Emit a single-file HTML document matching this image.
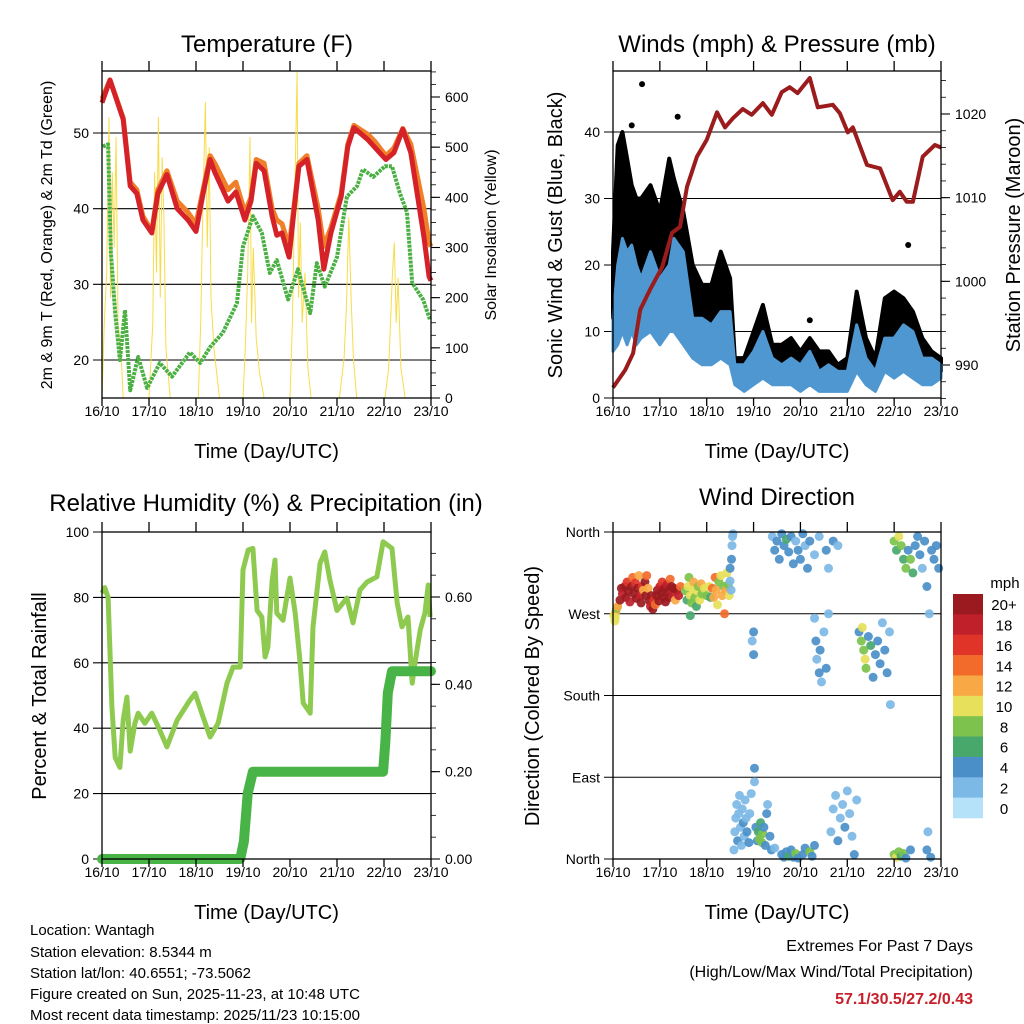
<!DOCTYPE html>
<html><head><meta charset="utf-8">
<style>
html,body{margin:0;padding:0;background:#fff;}
svg{display:block;font-family:"Liberation Sans",sans-serif;}
</style></head>
<body>
<svg id="c" width="1024" height="1024" viewBox="0 0 1024 1024">
<rect width="1024" height="1024" fill="#fff"/>
<g id="p1"></g>
<g id="p2"></g>
<g id="p3"></g>
<g id="p4"></g>
<g id="foot">
<text x="30" y="935" font-size="15">Location: Wantagh</text>
<text x="30" y="957" font-size="15">Station elevation: 8.5344 m</text>
<text x="30" y="978" font-size="15">Station lat/lon: 40.6551; -73.5062</text>
<text x="30" y="999" font-size="15">Figure created on Sun, 2025-11-23, at 10:48 UTC</text>
<text x="30" y="1020" font-size="15">Most recent data timestamp: 2025/11/23 10:15:00</text>
<text x="973" y="951" font-size="16" text-anchor="end">Extremes For Past 7 Days</text>
<text x="973" y="977" font-size="16" text-anchor="end">(High/Low/Max Wind/Total Precipitation)</text>
<text x="973" y="1004" font-size="16" font-weight="bold" fill="#c8202a" text-anchor="end">57.1/30.5/27.2/0.43</text>
</g>
</svg>
<script>
// ---------- data ----------
const dayLabels=["16/10","17/10","18/10","19/10","20/10","21/10","22/10","23/10"];
const tempTicks=[20,30,40,50];
const solarTicks=[0,100,200,300,400,500,600];
const tempT=[0,0.17,0.45,0.6,0.74,0.87,1.06,1.19,1.38,1.6,1.83,2.0,2.15,2.3,2.4,2.68,2.85,3.04,3.17,3.28,3.45,3.62,3.72,3.83,3.98,4.09,4.19,4.36,4.6,4.72,4.87,5.09,5.23,5.36,5.66,5.79,6.04,6.21,6.4,6.57,6.85,6.96,7.0];
const tempRed=[54,57,51.8,43,42,38.5,36.8,42,44.5,40,38.5,37,42,46.5,44.8,41,42.2,38.5,41,46,45,39,36.5,36.8,33.6,40,45.6,46.5,38.5,32,36.8,41.6,48.2,50.7,49.1,48.2,46.5,47.4,50.5,47.4,36.3,31,30.5];
const tempOrange=[54.5,57,52,43.5,42.5,39,37,42.5,45,41,39.5,38,42.5,47,46,42.5,43.5,39.5,41.5,46.5,46,40,38.5,38,35,40.5,46,47,40,35,37.5,42,48.5,51,49.8,49,47,48,50.6,48.5,40,35.5,35];
const dewT=[0.02,0.13,0.19,0.28,0.38,0.49,0.6,0.77,0.96,1.23,1.49,1.87,2.09,2.3,2.57,2.87,3.0,3.21,3.4,3.57,3.72,3.96,4.17,4.43,4.57,4.74,5.0,5.21,5.43,5.55,5.77,6.02,6.17,6.34,6.49,6.6,6.83,6.98];
const dewV=[48.2,48.5,34.2,26.2,20,26.6,16,20.4,16.3,19.6,17.8,21,19.6,21.7,23.6,27.5,35,39,36.8,31.5,33.2,28,32,26.2,32.8,29.7,33.6,41.6,43,45.2,44.2,45.6,45.6,42,39.5,30.2,28,25.3];
const solarT=[0,0.05,0.1,0.15,0.18,0.22,0.26,0.3,0.34,0.4,0.45,1.0,1.08,1.12,1.16,1.2,1.24,1.28,1.32,1.36,1.45,2.05,2.1,2.15,2.2,2.24,2.28,2.32,2.38,2.5,3.0,3.05,3.1,3.15,3.18,3.22,3.28,3.35,3.45,4.0,4.05,4.1,4.15,4.18,4.22,4.26,4.32,4.38,4.45,5.05,5.15,5.2,5.25,5.3,5.35,5.42,6.02,6.1,6.18,6.22,6.26,6.3,6.36,6.45,7.0];
const solarV=[0,150,250,560,200,450,300,520,150,100,0,0,150,450,250,560,200,480,350,100,0,0,150,400,590,300,500,200,100,0,0,100,250,520,150,300,120,50,0,0,150,400,650,200,350,150,250,60,0,0,80,180,360,200,80,0,0,60,250,310,150,240,60,0,0];

const windTicks=[0,10,20,30,40];
const presTicks=[990,1000,1010,1020];
const windT=[0,0.1,0.2,0.3,0.4,0.5,0.6,0.8,1.0,1.2,1.3,1.5,1.7,1.9,2.1,2.3,2.5,2.6,2.8,3.0,3.2,3.4,3.6,3.8,4.0,4.2,4.4,4.6,4.8,5.0,5.2,5.4,5.6,5.8,6.0,6.2,6.4,6.6,6.8,7.0];
const windLo=[7,8,10,8,10,8,9,10,8,10,10,8,6,5,5,6,5,2,1,2,3,2,2,2,1,2,1,1,1,1,4,2,1,4,3,4,3,2,2,3];
const windHi=[12,20,24,22,23,20,18,22,18,20,24,22,12,12,11,13,13,5,5,7,10,6,5,6,5,7,4,5,4,4,11,6,4,9,9,11,10,6,6,5];
const gustLo=[12,20,22,20,18,16,17,18,15,18,18,15,10,8,8,10,10,4,3,4,6,3,3,4,3,4,3,3,3,3,6,4,3,6,5,6,5,4,3,4];
const gustHi=[22,38,40,36,32,30,30,32,28,36,33,28,20,17,17,22,18,6,6,10,14,8,8,9,7,9,7,7,5,6,16,9,6,15,16,15,13,9,7,6];
const gustOutT=[0.62,1.38,4.2,6.3,0.4,0.2];
const gustOutV=[47.2,42.3,11.7,23,41,39];
const presT=[0,0.26,0.43,0.58,0.79,1.05,1.26,1.43,1.58,1.79,2.0,2.22,2.39,2.56,2.77,2.96,3.2,3.39,3.6,3.77,3.94,4.2,4.37,4.69,4.84,5.01,5.12,5.42,5.7,5.97,6.12,6.27,6.4,6.61,6.87,7.0];
const presV=[987.3,989.4,991.4,996.6,999,1001.7,1005.8,1006.5,1011.3,1014.9,1016.9,1020.2,1018.4,1019.5,1020.6,1019.9,1021.3,1019.9,1022.6,1023.2,1022.5,1024.3,1020.8,1021.1,1020.1,1017.8,1018.4,1013.9,1013.5,1009.7,1010.7,1009.5,1009.5,1014.9,1016.3,1016];

const rhTicks=[0,20,40,60,80,100];
const precipTicks=[0,0.2,0.4,0.6];
const rhT=[0,0.06,0.13,0.21,0.28,0.38,0.45,0.53,0.6,0.7,0.77,0.91,1.06,1.23,1.38,1.6,1.87,1.98,2.15,2.3,2.47,2.66,2.79,2.94,3.0,3.11,3.21,3.3,3.4,3.47,3.53,3.62,3.68,3.72,3.85,4.0,4.11,4.21,4.28,4.43,4.49,4.64,4.74,4.85,5.0,5.21,5.34,5.49,5.64,5.85,5.98,6.17,6.28,6.38,6.51,6.6,6.66,6.77,6.87,6.94,6.98];
const rhV=[81.3,83,80,46.5,31,28,42.5,49.5,33,41.5,44.6,41.5,44.6,39.4,34.3,42.5,48.6,50.7,43.4,37.3,41.5,53.8,58.7,58.7,88.4,94.5,95,76,74,61.8,64.8,85,91.4,75.2,73,85.9,75.2,60.8,47.7,44.6,71,90.5,93.9,85.3,76,79.8,72.2,82.3,84.7,86.3,97,95,78.3,71,74,53.8,60,70,75.2,83.8,74];
const precipT=[0,2.94,3.02,3.1,3.21,5.98,6.03,6.08,6.17,7.0];
const precipV=[0,0,0.04,0.15,0.2,0.2,0.27,0.38,0.43,0.43];

const dirTickLabels=["North","East","South","West","North"];
const dirTickDeg=[0,90,180,270,360];
const speedBins=["0","2","4","6","8","10","12","14","16","18","20+"];
const binColors=["#b5e2f8","#7db9e6","#4a8fc8","#48a86c","#7cc24c","#e6e05a","#f9a846","#f26b2b","#e03428","#c0202a","#9b1a1f"];
// observations: [day offset, direction deg, speed mph]
const dirObs=[
[0.02,268,11],[0.04,262,10],[0.06,272,12],[0.08,276,9],[0.05,266,10],[0.1,278,12],
[0.15,285,20],[0.18,298,20],[0.2,292,18],[0.25,300,20],[0.28,288,20],[0.3,305,16],[0.33,295,20],[0.36,283,18],[0.4,300,20],[0.42,310,14],[0.45,292,20],[0.48,304,16],[0.5,287,20],[0.53,298,20],[0.55,312,12],[0.58,290,18],[0.6,282,20],[0.62,300,16],[0.65,296,12],[0.68,305,20],[0.7,290,20],[0.72,312,14],[0.75,298,12],[0.78,284,20],[0.8,278,18],[0.82,290,20],[0.85,275,20],[0.88,285,16],[0.9,280,14],[0.93,290,20],[0.95,296,20],[0.98,284,20],[1.0,300,18],[1.03,293,20],[1.05,305,16],[1.08,288,20],[1.1,298,20],[1.12,283,20],[1.15,302,18],[1.18,295,20],[1.2,288,20],[1.22,308,14],[1.25,300,20],[1.28,292,18],[1.3,298,20],[1.33,285,12],[1.36,296,20],[1.4,290,18],[1.44,300,14],
[1.55,295,8],[1.58,285,6],[1.6,300,10],[1.62,310,8],[1.65,290,10],[1.68,282,8],[1.7,298,10],[1.72,305,12],[1.75,288,8],[1.78,278,6],[1.8,295,10],[1.82,300,8],[1.85,285,10],[1.88,303,12],[1.9,292,8],[1.65,268,6],[1.95,298,10],[2.0,290,8],[2.05,300,10],[2.08,288,6],
[2.12,298,14],[2.15,288,12],[2.18,310,14],[2.2,296,12],[2.23,280,10],[2.26,305,8],[2.3,312,10],[2.33,290,12],[2.36,300,8],[2.38,270,14],[2.4,295,12],[2.43,315,10],[2.46,302,8],[2.48,290,10],[2.5,320,4],
[2.53,330,4],[2.54,345,2],[2.55,355,2],[2.56,358,2],[2.5,306,2],[2.52,296,2],
[2.58,10,2],[2.6,30,2],[2.62,45,2],[2.64,60,2],[2.66,20,4],[2.68,50,2],[2.7,70,2],[2.72,35,2],[2.74,15,2],[2.76,55,2],[2.78,40,4],[2.8,25,2],[2.82,65,2],[2.84,45,2],[2.86,30,4],[2.9,18,4],[2.92,50,2],[2.95,72,2],[2.97,240,2],[3.0,225,4],[3.0,250,4],[3.02,100,4],[3.02,85,2],[3.05,35,4],[3.08,20,4],
[3.1,30,6],[3.12,22,8],[3.15,40,6],[3.18,18,8],[3.2,28,8],[3.22,35,4],[3.25,15,4],[3.28,50,4],[3.3,60,2],[3.35,25,4],[3.38,10,4],[3.45,12,2],
[3.4,355,2],[3.45,340,4],[3.5,350,4],[3.55,330,4],[3.6,358,4],[3.65,345,4],[3.7,352,6],[3.75,338,4],[3.8,355,4],[3.85,325,4],[3.9,350,2],[3.95,340,4],[4.0,330,4],[4.05,358,4],[4.1,345,2],[4.15,320,4],[4.2,350,4],[4.3,335,2],[4.4,355,2],[4.55,340,4],[4.6,320,2],[4.7,350,4],[4.8,345,2],
[3.6,5,4],[3.65,2,4],[3.7,8,4],[3.75,3,6],[3.8,10,4],[3.85,2,4],[3.9,6,8],[3.95,1,4],[4.05,5,4],[4.1,12,4],[4.2,8,8],[4.25,3,4],[4.3,15,4],
[4.3,265,2],[4.33,240,4],[4.35,220,2],[4.4,205,4],[4.42,230,4],[4.45,195,2],[4.5,250,2],[4.55,210,4],[4.6,270,2],
[4.65,30,2],[4.7,55,2],[4.75,70,2],[4.8,20,4],[4.85,45,2],[4.9,60,2],[4.95,35,4],[5.0,75,2],[5.05,50,2],[5.1,25,2],[5.15,5,4],[5.2,65,2],
[5.25,250,4],[5.3,240,8],[5.32,255,10],[5.35,230,8],[5.38,220,10],[5.4,210,8],[5.45,245,4],[5.5,235,6],[5.55,200,4],[5.6,225,4],[5.65,240,4],[5.7,215,4],[5.75,260,2],[5.8,230,4],[5.85,205,4],[5.9,250,2],[5.92,170,2],
[6.0,5,8],[6.05,2,10],[6.1,8,8],[6.15,3,6],[6.2,6,8],[6.25,1,4],[6.35,10,4],
[6.0,350,8],[6.05,340,6],[6.1,355,10],[6.15,345,8],[6.2,330,6],[6.25,320,8],[6.3,340,4],[6.35,330,8],[6.4,315,6],[6.45,345,4],[6.5,355,4],[6.55,335,4],[6.6,320,2],[6.65,350,4],[6.7,300,4],[6.75,270,2],[6.8,340,4],[6.85,330,4],[6.9,345,4],[6.95,320,4],
[6.7,10,4],[6.72,30,2],[6.78,2,4]
];

// ---------- helpers ----------
const NS="http://www.w3.org/2000/svg";
function mk(parent,tag,attrs){const e=document.createElementNS(NS,tag);for(const k in attrs)e.setAttribute(k,attrs[k]);parent.appendChild(e);return e;}
function txt(parent,x,y,s,size,anchor,extra){const e=mk(parent,"text",Object.assign({x:x,y:y,"font-size":size,"text-anchor":anchor||"middle",fill:"#000"},extra||{}));e.textContent=s;return e;}
function lin(d0,d1,r0,r1){return v=>r0+(v-d0)*(r1-r0)/(d1-d0);}
function pathOf(xs,ys,fx,fy){let d="";for(let i=0;i<xs.length;i++)d+=(i?"L":"M")+fx(xs[i]).toFixed(1)+","+fy(ys[i]).toFixed(1);return d;}

function frame(g,x0,y0,x1,y1){
  const xs=lin(0,7,x0,x1);
  for(let i=0;i<=7;i++){
    const x=xs(i);
    const t=mk(g,"line",{x1:x,y1:y1,x2:x,y2:y1+8,stroke:"#000","stroke-width":1.3});
    
    
    mk(g,"line",{x1:x,y1:y0,x2:x,y2:y0-10,stroke:"#000","stroke-width":1.3});
    const l=txt(g,x,y1+18,dayLabels[i],14);
    
    
  }
  const b=mk(g,"rect",{x:x0,y:y0,width:x1-x0,height:y1-y0,fill:"none",stroke:"#000","stroke-width":1.3});
  
  
  const xt=txt(g,(x0+x1)/2,y1+60,"Time (Day/UTC)",20);
  
  
}
function leftAxis(g,ticks,fy,x0,x1,labels,grid){
  ticks.forEach((v,i)=>{
    const y=fy(v);
    if(grid)mk(g,"line",{x1:x0-9,y1:y,x2:x1,y2:y,stroke:"#000","stroke-width":1.1});
    else mk(g,"line",{x1:x0-9,y1:y,x2:x0,y2:y,stroke:"#000","stroke-width":1.1});
    const l=txt(g,x0-13,y+5,labels?labels[i]:String(v),14,"end");
    
    
  });
}
function rightAxis(g,ticks,fy,x1,fmt,minorStep,ymin,ymax){
  if(minorStep){for(let v=Math.ceil(ymin/minorStep)*minorStep;v<=ymax;v+=minorStep){const y=fy(v);mk(g,"line",{x1:x1,y1:y,x2:x1+5,y2:y,stroke:"#000","stroke-width":0.8});}}
  ticks.forEach(v=>{
    const y=fy(v);
    mk(g,"line",{x1:x1,y1:y,x2:x1+9,y2:y,stroke:"#000","stroke-width":1.1});
    const l=txt(g,x1+14,y+5,fmt(v),14,"start");
    
    
  });
}
function vtitle(g,x,y,s,size,name){
  const t=txt(g,0,0,s,size,"middle",{transform:`translate(${x},${y}) rotate(-90)`});
  
  
}
function title(g,x,y,s,name){const t=txt(g,x,y,s,24);}

// ---------- panel 1: temperature ----------
(function(){
  const g=document.getElementById("p1");
  const x0=102,x1=431,y0=71,y1=398;
  const fx=lin(0,7,x0,x1), fy=lin(20,50,360,133), fs=lin(0,600,398,97);
  title(g,267,52,"Temperature (F)","temperature-title");
  leftAxis(g,tempTicks,fy,x0,x1,null,true);
  rightAxis(g,solarTicks,fs,x1,v=>String(v),25,0,650);
  const clip=mk(g,"clipPath",{id:"cl1"});mk(clip,"rect",{x:x0,y:y0,width:x1-x0,height:y1-y0});
  const s=mk(g,"path",{d:pathOf(solarT,solarV,fx,fs),fill:"none",stroke:"#f7dc4a","stroke-width":1,"clip-path":"url(#cl1)"});
  
  
  const o=mk(g,"path",{d:pathOf(tempT,tempOrange,fx,fy),fill:"none",stroke:"#f07f2a","stroke-width":5,"stroke-linejoin":"round"});
  
  
  const r=mk(g,"path",{d:pathOf(tempT,tempRed,fx,fy),fill:"none",stroke:"#d42228","stroke-width":5,"stroke-linejoin":"round"});
  
  
  const d=mk(g,"path",{d:pathOf(dewT,dewV,fx,fy),fill:"none",stroke:"#4bb043","stroke-width":4,"stroke-dasharray":"3 1","stroke-linejoin":"round"});
  
  
  frame(g,x0,y0,x1,y1);
  vtitle(g,52,235,"2m & 9m T (Red, Orange) & 2m Td (Green)",16,"left-y-axis-title");
  vtitle(g,496,235,"Solar Insolation (Yellow)",16,"right-y-axis-title");
})();

// ---------- panel 2: winds ----------
(function(){
  const g=document.getElementById("p2");
  const x0=613,x1=941,y0=71,y1=398;
  const fx=lin(0,7,x0,x1), fy=lin(0,40,398,132), fp=lin(990,1020,365,114);
  title(g,777,52,"Winds (mph) & Pressure (mb)","winds-title");
  leftAxis(g,windTicks,fy,x0,x1,null,true);
  rightAxis(g,presTicks,fp,x1,v=>String(v),2,986,1025);
  let d="M"+fx(windT[0])+","+fy(gustHi[0]);
  for(let i=1;i<windT.length;i++)d+="L"+fx(windT[i]).toFixed(1)+","+fy(gustHi[i]).toFixed(1);
  for(let i=windT.length-1;i>=0;i--)d+="L"+fx(windT[i]).toFixed(1)+","+fy(gustLo[i]).toFixed(1);
  const gb=mk(g,"path",{d:d+"Z",fill:"#000",stroke:"#000","stroke-width":4,"stroke-linejoin":"round"});
  
  
  gustOutT.forEach((t,i)=>{
    const c=mk(g,"circle",{cx:fx(t),cy:fy(gustOutV[i]),r:3,fill:"#000"});
    
    
  });
  let w="M"+fx(windT[0])+","+fy(windHi[0]);
  for(let i=1;i<windT.length;i++)w+="L"+fx(windT[i]).toFixed(1)+","+fy(windHi[i]).toFixed(1);
  for(let i=windT.length-1;i>=0;i--)w+="L"+fx(windT[i]).toFixed(1)+","+fy(windLo[i]).toFixed(1);
  const wb=mk(g,"path",{d:w+"Z",fill:"#4f97d0",stroke:"#4f97d0","stroke-width":3,"stroke-linejoin":"round"});
  
  
  const p=mk(g,"path",{d:pathOf(presT,presV,fx,fp),fill:"none",stroke:"#9b1c1c","stroke-width":4,"stroke-linejoin":"round"});
  
  
  frame(g,x0,y0,x1,y1);
  vtitle(g,562,235,"Sonic Wind & Gust (Blue, Black)",20,"left-y-axis-title");
  vtitle(g,1020,235,"Station Pressure (Maroon)",20,"right-y-axis-title");
})();

// ---------- panel 3: humidity ----------
(function(){
  const g=document.getElementById("p3");
  const x0=102,x1=431,y0=532,y1=859;
  const fx=lin(0,7,x0,x1), fy=lin(0,100,859,532), fp=lin(0,0.6,859,597);
  title(g,266,511,"Relative Humidity (%) & Precipitation (in)","humidity-title");
  leftAxis(g,rhTicks,fy,x0,x1,null,true);
  rightAxis(g,precipTicks,fp,x1,v=>v.toFixed(2),0.05,0,0.74);
  const r=mk(g,"path",{d:pathOf(rhT,rhV,fx,fy),fill:"none",stroke:"#8fca50","stroke-width":5,"stroke-linejoin":"round"});
  
  
  const p=mk(g,"path",{d:pathOf(precipT,precipV,fx,fp),fill:"none",stroke:"#48b447","stroke-width":10,"stroke-linecap":"round","stroke-linejoin":"round"});
  
  
  frame(g,x0,y0,x1,y1);
  vtitle(g,46,696,"Percent & Total Rainfall",20,"left-y-axis-title");
})();

// ---------- panel 4: wind direction ----------
(function(){
  const g=document.getElementById("p4");
  const x0=613,x1=941,y0=532,y1=859;
  const fx=lin(0,7,x0,x1), fy=lin(0,360,859,532);
  title(g,777,505,"Wind Direction","wind-direction-title");
  leftAxis(g,dirTickDeg,fy,x0,x1,dirTickLabels,true);
  dirObs.forEach(o=>{
    const idx=Math.min(10,Math.floor(o[2]/2));
    const c=mk(g,"circle",{cx:fx(o[0]).toFixed(1),cy:fy(o[1]).toFixed(1),r:4.5,fill:binColors[idx],"fill-opacity":0.92});
    
    
  });
  frame(g,x0,y0,x1,y1);
  vtitle(g,539,696,"Direction (Colored By Speed)",20,"left-y-axis-title");
  const leg=mk(g,"g",{});
  
  
  txt(leg,1005,588,"mph",15);
  const bh=224/11;
  for(let i=0;i<11;i++){
    const k=10-i, y=594+i*bh;
    const r=mk(leg,"rect",{x:953,y:y.toFixed(1),width:30,height:(bh+0.3).toFixed(1),fill:binColors[k]});
    
    
    txt(leg,1004,y+bh/2+6,speedBins[k],15);
  }
})();
</script>
</body></html>
